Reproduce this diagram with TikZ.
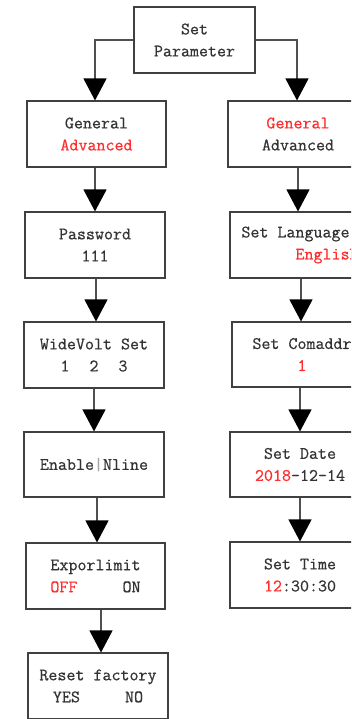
\documentclass[tikz,border=0pt]{standalone}
\usepackage{fontspec}
\setmonofont{Latin Modern Mono}[FakeBold=0.6]
\usetikzlibrary{arrows.meta}
\definecolor{txt}{HTML}{333333}
\definecolor{hot}{HTML}{FF2E2E}
\definecolor{edge}{HTML}{404040}
\definecolor{wire}{HTML}{505050}
\begin{document}
\begin{tikzpicture}[x=1pt,y=-1pt,
  box/.style={draw=edge,line width=1.1pt,fill=white,inner sep=0pt,
    minimum width=140pt,minimum height=66pt,align=center,text=txt,
    font=\ttfamily\fontsize{17.5}{22}\selectfont},
  arr/.style={draw=wire,line width=1.2pt,-{Triangle[width=23pt,length=22pt,color=black]}}]
\useasboundingbox (0,0) rectangle (351,719);
\clip (0,0) rectangle (351,719);
\node[box,minimum width=121pt] (sp) at (194.5,40) {Set\\Parameter};
\node[box,minimum width=139pt] (gl) at (96.5,134) {General\\\textcolor{hot}{Advanced}};
\node[box] (gr) at (298,134) {\textcolor{hot}{General}\\Advanced};
\node[box] (pw) at (95,245) {Password\\111};
\node[box,align=left] (sl) at (300,245) {Set Language\\\phantom{Set La}\textcolor{hot}{English}};
\node[box] (wv) at (94,355) {WideVolt Set\\1\hspace{20pt}2\hspace{20pt}3};
\node[box,minimum height=65pt] (sc) at (302,354.5) {Set Comaddr\\\textcolor{hot}{1}};
\node[box,minimum height=65pt] (en) at (94,464.5) {Enable\textcolor{gray!70}{|}Nline};
\node[box,minimum height=65pt] (sd) at (300,464.5) {Set Date\\\textcolor{hot}{2018}-12-14};
\node[box,minimum width=139pt] (ex) at (95.5,576) {Exporlimit\\\textcolor{hot}{OFF}\ \ \ \ \ ON};
\node[box] (st) at (300,575) {Set Time\\\textcolor{hot}{12}:30:30};
\node[box] (rf) at (98,686) {Reset factory\\YES\ \ \ \ \ NO};
% connectors
\draw[arr] (sp.west) -| ([xshift=-1.5pt]gl.north);
\draw[arr] (sp.east) -| ([xshift=-1pt]gr.north);
\draw[arr] ([xshift=-1.5pt]gl.south) -- ([xshift=-1.5pt]gl.south |- pw.north);
\draw[arr] ([xshift=1pt]pw.south) -- ([xshift=1pt]pw.south |- wv.north);
\draw[arr] (wv.south) -- (wv.south |- en.north);
\draw[arr] ([xshift=3pt]en.south) -- ([xshift=3pt]en.south |- ex.north);
\draw[arr] ([xshift=5.5pt]ex.south) -- ([xshift=5.5pt]ex.south |- rf.north);
\draw[arr] (gr.south) -- (gr.south |- sl.north);
\draw[arr] ([xshift=1pt]sl.south) -- ([xshift=1pt]sl.south |- sc.north);
\draw[arr] ([xshift=-2pt]sc.south) -- ([xshift=-2pt]sc.south |- sd.north);
\draw[arr] (sd.south) -- (sd.south |- st.north);
\end{tikzpicture}
\end{document}
